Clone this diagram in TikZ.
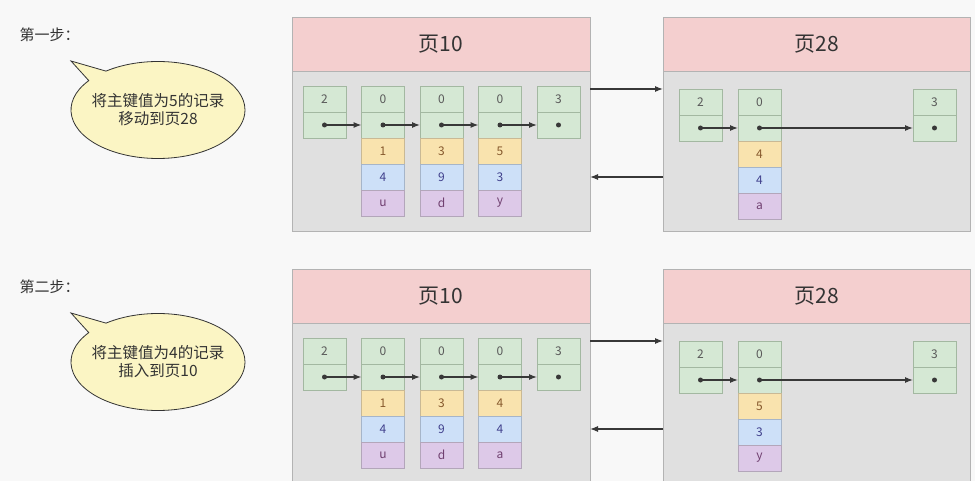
\documentclass[tikz,border=0pt]{standalone}
\usepackage{fontspec}
\setmainfont{Noto Sans CJK SC}
\usetikzlibrary{arrows.meta,positioning,shapes.callouts}
\definecolor{bgcol}{HTML}{F8F8F8}
\definecolor{txt}{HTML}{333333}
\definecolor{headfill}{HTML}{F4CFCF}
\definecolor{pagefill}{HTML}{E0E0E0}
\definecolor{pageline}{HTML}{B3B3B3}
\definecolor{gfill}{HTML}{D5E8D4}
\definecolor{gline}{HTML}{A3B8A1}
\definecolor{yfill}{HTML}{F9E3AE}
\definecolor{yline}{HTML}{C9B995}
\definecolor{bfill}{HTML}{CDE0F8}
\definecolor{bline}{HTML}{A6B5C9}
\definecolor{pfill}{HTML}{DDC9E8}
\definecolor{pline}{HTML}{B3A6BA}
\definecolor{bubblefill}{HTML}{FBF5C4}
\definecolor{arrowcol}{HTML}{383838}
\tikzset{
  headbox/.style={draw=pageline, fill=headfill, minimum width=298pt, minimum height=54pt, inner sep=0pt, outer sep=0pt, text=txt, font=\fontsize{21}{25}\selectfont},
  bodybox/.style={draw=pageline, fill=pagefill, minimum width=298pt, minimum height=160pt, inner sep=0pt, outer sep=0pt},
  cell/.style={minimum width=43pt, minimum height=26pt, inner sep=0pt, outer sep=0pt, font=\fontsize{12}{14}\selectfont},
  keycell/.style={cell, draw=gline, fill=gfill, text=black!65},
  ptrcell/.style={cell, draw=gline, fill=gfill},
  ycell/.style={cell, draw=yline, fill=yfill, text=brown!70!black},
  bcell/.style={cell, draw=bline, fill=bfill, text=blue!40!black!75},
  pcell/.style={cell, draw=pline, fill=pfill, text=violet!50!black!75},
  ptrdot/.style={circle, fill=arrowcol, inner sep=0pt, minimum size=5pt},
  arrow/.style={-{Latex[length=8pt,width=6pt]}, draw=arrowcol, line width=1.1pt},
  steplabel/.style={anchor=west, text=txt, font=\fontsize{15}{17}\selectfont},
  bubble/.style={ellipse callout, draw=txt, fill=bubblefill, thick, inner xsep=-5pt, inner ysep=0pt, minimum width=174pt, minimum height=97pt, callout pointer arc=16, align=center, text=txt, font=\fontsize{15.5}{18}\selectfont},
}
\begin{document}
\begin{tikzpicture}[x=1pt,y=-1pt]
  \useasboundingbox (0,0) rectangle (975,481);
  \fill[bgcol] (0,0) rectangle (975,481);

  % step 1
  \node[steplabel] (lab1) at (16,35) {第一步：};
  \coordinate (tip1) at (71,61);
  \node[bubble, callout absolute pointer=(tip1)] (say1) at (158,110) {将主键值为5的记录\\移动到页28};

  \node[headbox] (h10a) at (441,44) {页10};
  \node[bodybox, below=0pt of h10a] (b10a) {};
  \node[headbox, minimum width=307pt] (h28a) at (816.5,44) {页28};
  \node[bodybox, minimum width=307pt, below=0pt of h28a] (b28a) {};

  \node[keycell, below right=15pt and 11pt of b10a.north west] (a1) {2};
  \node[ptrcell, below=0pt of a1] (a1p) {};
  \node[keycell, right=15.5pt of a1] (a2) {0};
  \node[ptrcell, below=0pt of a2] (a2p) {};
  \node[ycell, below=0pt of a2p] (a2y) {1};
  \node[bcell, below=0pt of a2y] (a2b) {4};
  \node[pcell, below=0pt of a2b] (a2c) {u};
  \node[keycell, right=15.5pt of a2] (a3) {0};
  \node[ptrcell, below=0pt of a3] (a3p) {};
  \node[ycell, below=0pt of a3p] (a3y) {3};
  \node[bcell, below=0pt of a3y] (a3b) {9};
  \node[pcell, below=0pt of a3b] (a3c) {d};
  \node[keycell, right=15.5pt of a3] (a4) {0};
  \node[ptrcell, below=0pt of a4] (a4p) {};
  \node[ycell, below=0pt of a4p] (a4y) {5};
  \node[bcell, below=0pt of a4y] (a4b) {3};
  \node[pcell, below=0pt of a4b] (a4c) {y};
  \node[keycell, right=15.5pt of a4] (a5) {3};
  \node[ptrcell, below=0pt of a5] (a5p) {};

  \node[keycell, below right=18pt and 16pt of b28a.north west] (s1) {2};
  \node[ptrcell, below=0pt of s1] (s1p) {};
  \node[keycell, right=16pt of s1] (s2) {0};
  \node[ptrcell, below=0pt of s2] (s2p) {};
  \node[ycell, below=0pt of s2p] (s2y) {4};
  \node[bcell, below=0pt of s2y] (s2b) {4};
  \node[pcell, below=0pt of s2b] (s2c) {a};
  \node[keycell, below left=18pt and 14pt of b28a.north east] (s3) {3};
  \node[ptrcell, below=0pt of s3] (s3p) {};

  \node[ptrdot] (a1d) at (a1p) {};
  \node[ptrdot] (a2d) at (a2p) {};
  \node[ptrdot] (a3d) at (a3p) {};
  \node[ptrdot] (a4d) at (a4p) {};
  \node[ptrdot] (a5d) at (a5p) {};
  \node[ptrdot] (s1d) at (s1p) {};
  \node[ptrdot] (s2d) at (s2p) {};
  \node[ptrdot] (s3d) at (s3p) {};

  \draw[arrow] (a1d.center) -- (a2p.west);
  \draw[arrow] (a2d.center) -- (a3p.west);
  \draw[arrow] (a3d.center) -- (a4p.west);
  \draw[arrow] (a4d.center) -- (a5p.west);
  \draw[arrow] (s1d.center) -- (s2p.west);
  \draw[arrow] (s2d.center) -- (s3p.west);

  \draw[arrow] (b10a.east |- s1.north) -- (b28a.west |- s1.north);
  \draw[arrow] (b28a.west |- a2b) -- (b10a.east |- a2b);

  % step 2
  \node[steplabel] (lab2) at (16,287) {第二步：};
  \coordinate (tip2) at (71,313);
  \node[bubble, callout absolute pointer=(tip2)] (say2) at (158,362) {将主键值为4的记录\\插入到页10};

  \node[headbox] (h10b) at (441,296) {页10};
  \node[bodybox, below=0pt of h10b] (b10b) {};
  \node[headbox, minimum width=307pt] (h28b) at (816.5,296) {页28};
  \node[bodybox, minimum width=307pt, below=0pt of h28b] (b28b) {};

  \node[keycell, below right=15pt and 11pt of b10b.north west] (c1) {2};
  \node[ptrcell, below=0pt of c1] (c1p) {};
  \node[keycell, right=15.5pt of c1] (c2) {0};
  \node[ptrcell, below=0pt of c2] (c2p) {};
  \node[ycell, below=0pt of c2p] (c2y) {1};
  \node[bcell, below=0pt of c2y] (c2b) {4};
  \node[pcell, below=0pt of c2b] (c2c) {u};
  \node[keycell, right=15.5pt of c2] (c3) {0};
  \node[ptrcell, below=0pt of c3] (c3p) {};
  \node[ycell, below=0pt of c3p] (c3y) {3};
  \node[bcell, below=0pt of c3y] (c3b) {9};
  \node[pcell, below=0pt of c3b] (c3c) {d};
  \node[keycell, right=15.5pt of c3] (c4) {0};
  \node[ptrcell, below=0pt of c4] (c4p) {};
  \node[ycell, below=0pt of c4p] (c4y) {4};
  \node[bcell, below=0pt of c4y] (c4b) {4};
  \node[pcell, below=0pt of c4b] (c4c) {a};
  \node[keycell, right=15.5pt of c4] (c5) {3};
  \node[ptrcell, below=0pt of c5] (c5p) {};

  \node[keycell, below right=18pt and 16pt of b28b.north west] (t1) {2};
  \node[ptrcell, below=0pt of t1] (t1p) {};
  \node[keycell, right=16pt of t1] (t2) {0};
  \node[ptrcell, below=0pt of t2] (t2p) {};
  \node[ycell, below=0pt of t2p] (t2y) {5};
  \node[bcell, below=0pt of t2y] (t2b) {3};
  \node[pcell, below=0pt of t2b] (t2c) {y};
  \node[keycell, below left=18pt and 14pt of b28b.north east] (t3) {3};
  \node[ptrcell, below=0pt of t3] (t3p) {};

  \node[ptrdot] (c1d) at (c1p) {};
  \node[ptrdot] (c2d) at (c2p) {};
  \node[ptrdot] (c3d) at (c3p) {};
  \node[ptrdot] (c4d) at (c4p) {};
  \node[ptrdot] (c5d) at (c5p) {};
  \node[ptrdot] (t1d) at (t1p) {};
  \node[ptrdot] (t2d) at (t2p) {};
  \node[ptrdot] (t3d) at (t3p) {};

  \draw[arrow] (c1d.center) -- (c2p.west);
  \draw[arrow] (c2d.center) -- (c3p.west);
  \draw[arrow] (c3d.center) -- (c4p.west);
  \draw[arrow] (c4d.center) -- (c5p.west);
  \draw[arrow] (t1d.center) -- (t2p.west);
  \draw[arrow] (t2d.center) -- (t3p.west);

  \draw[arrow] (b10b.east |- t1.north) -- (b28b.west |- t1.north);
  \draw[arrow] (b28b.west |- c2b) -- (b10b.east |- c2b);
\end{tikzpicture}
\end{document}
